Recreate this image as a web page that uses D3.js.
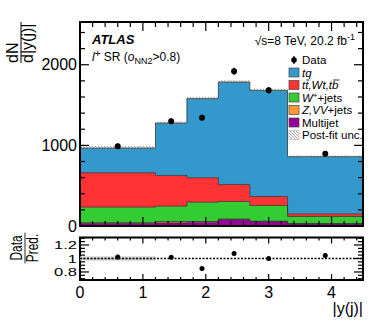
<!DOCTYPE html>
<html>
<head>
<meta charset="utf-8">
<script src="https://cdn.jsdelivr.net/npm/d3@7"></script>
<style>
  body { margin: 0; background: #fff; }
  text { font-family: "Liberation Sans", Arial, sans-serif; fill: #000; }
</style>
</head>
<body>
<svg id="main" width="382" height="323"></svg>
<script>
const width = 382;
const height = 323;

// bins in |y(j)|
const binEdges = [0, 1.2, 1.7, 2.2, 2.7, 3.3, 4.5];
// stacked predictions, bottom to top
const multijet = [35, 38, 48, 80, 55, 27];
const zvvJets = [4, 18, 8, 6, 4, 3];
const wJets = [195, 190, 240, 218, 196, 88];
const ttWt = [427, 381, 303, 211, 111, 33];
const tq = [306, 650, 981, 1271, 1317, 709];
const postFitUnc = [25, 20, 22, 22, 20, 15];
const ratioUnc = [0.03, 0, 0, 0, 0, 0];

// data points
const dataX = [0.6, 1.45, 1.94, 2.45, 3.0, 3.9];
const dataY = [988, 1300, 1344, 1919, 1683, 897];
const dataErr = [32, 36, 37, 44, 41, 30];

const xTicks = [0, 1, 2, 3, 4];
const yTicks = [0, 1000, 2000];
const ratioTicks = [0.8, 1, 1.2];

const layers = [
    { name: 'Multijet', values: multijet, color: '#990099' },
    { name: 'Z,VV+jets', values: zvvJets, color: '#ff9933' },
    { name: 'W+jets', values: wJets, color: '#33cc33' },
    { name: 'tt,Wt,tb', values: ttWt, color: '#ff3333' },
    { name: 'tq', values: tq, color: '#3399cc' }
];

const main = { left: 80, right: 363, top: 22, bottom: 226 };
const ratio = { top: 237.5, bottom: 280 };

const svg = d3.select('#main');

const defs = svg.append('defs');
const hatch = defs.append('pattern')
    .attr('id', 'hatch')
    .attr('patternUnits', 'userSpaceOnUse')
    .attr('width', 3)
    .attr('height', 3);
hatch.append('path')
    .attr('d', 'M-1,-1 L4,4 M-1,2 L1,4 M2,-1 L4,1')
    .attr('stroke', '#777')
    .attr('stroke-width', 0.7);

const xScale = d3.scaleLinear().domain([0, 4.5]).range([main.left, main.right]);
const yScale = d3.scaleLinear().domain([0, 2530]).range([main.bottom, main.top]);
const rScale = d3.scaleLinear().domain([0.681, 1.311]).range([ratio.bottom, ratio.top]);

// build stack
const nBins = tq.length;
let base = new Array(nBins).fill(0);
layers.forEach(l => {
    l.pts = [];
    for (let i = 0; i < nBins; i++) {
        l.pts.push({ x: binEdges[i], y0: base[i], y1: base[i] + l.values[i] });
    }
    l.pts.push({ x: binEdges[nBins], y0: l.pts[nBins - 1].y0, y1: l.pts[nBins - 1].y1 });
    base = base.map((b, i) => b + l.values[i]);
});
const total = base;

const area = d3.area()
    .x(d => xScale(d.x))
    .y0(d => yScale(d.y0))
    .y1(d => yScale(d.y1))
    .curve(d3.curveStepAfter);
const topLine = d3.line()
    .x(d => xScale(d.x))
    .y(d => yScale(d.y1))
    .curve(d3.curveStepAfter);

const plot = svg.append('g');
layers.forEach(l => {
    plot.append('path').attr('d', area(l.pts)).attr('fill', l.color);
});
layers.forEach(l => {
    plot.append('path').attr('d', topLine(l.pts))
        .attr('fill', 'none').attr('stroke', '#333').attr('stroke-width', 0.8);
});

// uncertainty band
const uncPts = total.map((t, i) => ({ x: binEdges[i], y0: t - postFitUnc[i], y1: t + postFitUnc[i] }));
uncPts.push({ x: binEdges[nBins], y0: uncPts[nBins - 1].y0, y1: uncPts[nBins - 1].y1 });
plot.append('path').attr('d', area(uncPts)).attr('fill', 'url(#hatch)');

// data
const dataG = svg.append('g');
dataX.forEach((x, i) => {
    dataG.append('line')
        .attr('x1', xScale(x)).attr('x2', xScale(x))
        .attr('y1', yScale(dataY[i] - dataErr[i])).attr('y2', yScale(dataY[i] + dataErr[i]))
        .attr('stroke', '#000').attr('stroke-width', 1.5);
    dataG.append('circle')
        .attr('cx', xScale(x)).attr('cy', yScale(dataY[i]))
        .attr('r', 3).attr('fill', '#000');
});

// frames and ticks
function frame(top, bottom) {
    svg.append('rect')
        .attr('x', main.left).attr('y', top)
        .attr('width', main.right - main.left).attr('height', bottom - top)
        .attr('fill', 'none').attr('stroke', '#000').attr('stroke-width', 2);
}
function xTickMarks(top, bottom, maj, min) {
    const g = svg.append('g').attr('stroke', '#000').attr('stroke-width', 1.2);
    for (let k = 0; k <= 22; k++) {
        const v = k * 0.2;
        const len = (k % 5 === 0) ? maj : min;
        const x = xScale(v);
        g.append('line').attr('x1', x).attr('x2', x).attr('y1', bottom).attr('y2', bottom - len);
        g.append('line').attr('x1', x).attr('x2', x).attr('y1', top).attr('y2', top + len);
    }
}
frame(main.top, main.bottom);
frame(ratio.top, ratio.bottom);
xTickMarks(main.top, main.bottom, 9, 5);
xTickMarks(ratio.top, ratio.bottom, 6, 3);

const yg = svg.append('g').attr('stroke', '#000').attr('stroke-width', 1.2);
for (let v = 0; v <= 2500; v += 200) {
    const len = (v % 1000 === 0) ? 9 : 5;
    yg.append('line').attr('x1', main.left).attr('x2', main.left + len).attr('y1', yScale(v)).attr('y2', yScale(v));
    yg.append('line').attr('x1', main.right).attr('x2', main.right - len).attr('y1', yScale(v)).attr('y2', yScale(v));
}
for (let k = 14; k <= 26; k++) {
    const v = k * 0.05;
    const len = (k % 4 === 0) ? 9 : 5;
    yg.append('line').attr('x1', main.left).attr('x2', main.left + len).attr('y1', rScale(v)).attr('y2', rScale(v));
    yg.append('line').attr('x1', main.right).attr('x2', main.right - len).attr('y1', rScale(v)).attr('y2', rScale(v));
}

// tick labels
svg.selectAll('.ylab').data(yTicks).join('text')
    .attr('x', 77).attr('y', d => yScale(d)).attr('dy', '0.36em')
    .attr('text-anchor', 'end').attr('font-size', 16).text(d => d);
// ratio labels sit tightly stacked, so they are a bit flattened
svg.selectAll('.rlab').data(ratioTicks).join('text')
    .attr('transform', d => `translate(77, ${rScale(d)}) scale(1.1, 0.78)`)
    .attr('dy', '0.36em')
    .attr('text-anchor', 'end').attr('font-size', 15).text(d => d);
svg.selectAll('.xlab').data(xTicks).join('text')
    .attr('x', d => xScale(d)).attr('y', 298)
    .attr('text-anchor', 'middle').attr('font-size', 16).text(d => d);

// ratio panel
const rg = svg.append('g');
ratioUnc.forEach((u, i) => {
    if (u > 0) {
        rg.append('rect')
            .attr('x', xScale(binEdges[i])).attr('width', xScale(binEdges[i + 1]) - xScale(binEdges[i]))
            .attr('y', rScale(1 + u)).attr('height', rScale(1 - u) - rScale(1 + u))
            .attr('fill', '#c8c8c8');
    }
});
rg.append('line')
    .attr('x1', main.left).attr('x2', main.right)
    .attr('y1', rScale(1)).attr('y2', rScale(1))
    .attr('stroke', '#000').attr('stroke-width', 1.3).attr('stroke-dasharray', '2,1.5');
dataX.forEach((x, i) => {
    const binIdx = d3.bisectRight(binEdges, x) - 1;
    const r = dataY[i] / total[binIdx];
    const e = dataErr[i] / total[binIdx];
    rg.append('line')
        .attr('x1', xScale(x)).attr('x2', xScale(x))
        .attr('y1', rScale(r - e)).attr('y2', rScale(r + e))
        .attr('stroke', '#000').attr('stroke-width', 1.3);
    rg.append('circle')
        .attr('cx', xScale(x)).attr('cy', rScale(r))
        .attr('r', 2.5).attr('fill', '#000');
});

// axis titles
svg.append('text').attr('x', 363).attr('y', 314)
    .attr('text-anchor', 'end').attr('font-size', 16).text('|y(j)|');

const yt = svg.append('g').attr('transform', 'translate(21,43) rotate(-90)');
yt.append('text').attr('x', -20).attr('y', -3).attr('font-size', 16).text('dN');
yt.append('text').attr('x', -20).attr('y', 12).attr('font-size', 16).text('d|y(j)|');
yt.append('line').attr('x1', -20).attr('x2', 21).attr('y1', 0).attr('y2', 0)
    .attr('stroke', '#000').attr('stroke-width', 1);

// ratio title, squeezed along its length like the reference
const rt = svg.append('g').attr('transform', 'translate(25,248) rotate(-90) scale(0.7,1)');
rt.append('text').attr('x', 0).attr('y', -3).attr('text-anchor', 'middle').attr('font-size', 17).text('Data');
rt.append('text').attr('x', 0).attr('y', 13).attr('text-anchor', 'middle').attr('font-size', 17).text('Pred.');
rt.append('line').attr('x1', -22).attr('x2', 22).attr('y1', 0).attr('y2', 0)
    .attr('stroke', '#000').attr('stroke-width', 1);

// labels
svg.append('text').attr('x', 92).attr('y', 44)
    .attr('font-size', 13).attr('font-weight', 'bold').attr('font-style', 'italic').text('ATLAS');
const sr = svg.append('text').attr('x', 92).attr('y', 61).attr('font-size', 12);
sr.append('tspan').attr('font-style', 'italic').text('l');
sr.append('tspan').attr('dy', -4).attr('font-size', 10).text('+');
sr.append('tspan').attr('dy', 4).text(' SR (');
sr.append('tspan').attr('font-style', 'italic').text('o');
sr.append('tspan').attr('dy', 3).attr('font-size', 9).text('NN2');
sr.append('tspan').attr('dy', -3).text('>0.8)');

const en = svg.append('text').attr('x', 355).attr('y', 45).attr('text-anchor', 'end').attr('font-size', 12);
en.append('tspan').text('\u221As=8 TeV, 20.2 fb');
en.append('tspan').attr('dy', -5).attr('font-size', 9).text('-1');

// legend
const legX = 289;
const legY = 60;
const legStep = 12.5;
const lg = svg.append('g').attr('font-size', 11.5);
lg.append('line').attr('x1', legX + 5).attr('x2', legX + 5).attr('y1', legY - 4).attr('y2', legY + 4)
    .attr('stroke', '#000').attr('stroke-width', 1.3);
lg.append('circle').attr('cx', legX + 5).attr('cy', legY).attr('r', 2.8).attr('fill', '#000');
lg.append('text').attr('x', legX + 13).attr('y', legY).attr('dy', '0.36em').text('Data');

const legendRows = [
    { color: '#3399cc', parts: [['tq', 'italic']] },
    { color: '#ff3333', parts: [['t', 'italic'], ['t', 'bar'], [',Wt,t', 'italic'], ['b', 'bar']] },
    { color: '#33cc33', parts: [['W', 'italic'], ['+', 'sup'], ['+jets', 'after']] },
    { color: '#ff9933', parts: [['Z,VV', 'italic'], ['+jets', 'normal']] },
    { color: '#990099', parts: [['Multijet', 'normal']] },
    { color: 'url(#hatch)', parts: [['Post-fit unc.', 'normal']] }
];
legendRows.forEach((row, i) => {
    const y = legY + (i + 1) * legStep;
    lg.append('rect').attr('x', legX).attr('y', y - 4.5).attr('width', 10).attr('height', 9)
        .attr('fill', row.color).attr('stroke', row.color.startsWith('url') ? '#bbb' : '#444').attr('stroke-width', 0.7);
    const t = lg.append('text').attr('x', legX + 13).attr('y', y).attr('dy', '0.36em');
    row.parts.forEach(p => {
        if (p[1] === 'sup') {
            t.append('tspan').attr('dy', -4).attr('font-size', 8).text(p[0]);
        } else if (p[1] === 'after') {
            t.append('tspan').attr('dy', 4).text(p[0]);
        } else if (p[1] === 'bar') {
            t.append('tspan').attr('font-style', 'italic').text(p[0]);
        } else {
            t.append('tspan').attr('font-style', p[1]).text(p[0]);
        }
    });
    // overbars for antiquarks
    const node = t.node();
    let offset = 0;
    row.parts.forEach(p => {
        const len = p[0].length;
        if (p[1] === 'bar') {
            const s = node.getStartPositionOfChar(offset);
            const e = node.getEndPositionOfChar(offset + len - 1);
            lg.append('line').attr('x1', s.x + 1).attr('x2', e.x + 1)
                .attr('y1', y - 5).attr('y2', y - 5)
                .attr('stroke', '#000').attr('stroke-width', 0.8);
        }
        offset += len;
    });
});
</script>
</body>
</html>
